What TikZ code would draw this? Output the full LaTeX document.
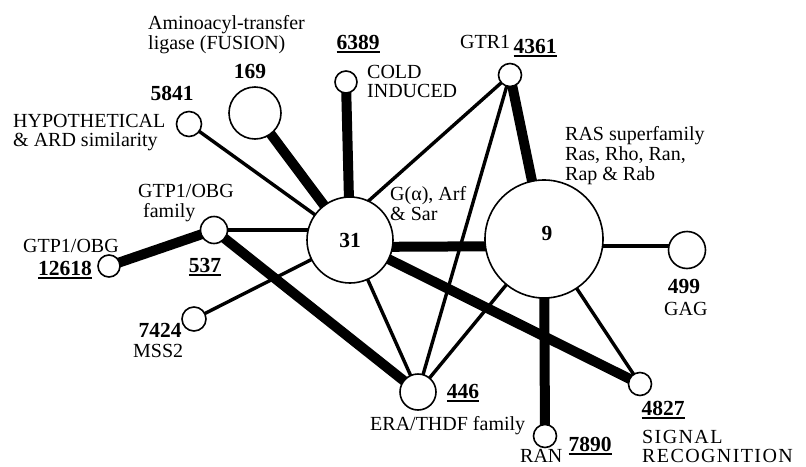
\documentclass[tikz,border=0pt]{standalone}
\usepackage{fontspec}
\setmainfont{Liberation Serif}
\usetikzlibrary{backgrounds,calc}

% label font and underlined bold cluster numbers
\newcommand\lblfont{\fontsize{20}{20}\selectfont}
\newcommand\numfont{\fontsize{21.5}{21.5}\selectfont\bfseries}
\newcommand\unum[1]{\vtop{\hbox{\numfont #1}\kern1.6pt\hrule height 1.8pt}}

\tikzset{
  grp/.style={circle, draw=black, fill=white, line width=1.6pt, inner sep=0pt, minimum size=#1},
  lbl/.style={font=\lblfont, inner sep=0pt, anchor=base west},
  lblc/.style={font=\lblfont, inner sep=0pt, anchor=base},
  num/.style={font=\numfont, inner sep=0pt, anchor=base},
  spaced/.style={font=\lblfont\addfontfeature{LetterSpace=7}},
  weak/.style={line width=3.4pt, line cap=butt},
  strong/.style={line width=10pt, line cap=butt},
}

\begin{document}
\begin{tikzpicture}[x=1pt, y=-1pt]
\useasboundingbox (0,0) rectangle (806,466);

% cluster circles
\node[grp=86pt]  (c31)   at (350,240) {};
\node[grp=118pt] (c9)    at (544,239) {};
\node[grp=52pt]  (n169)  at (255,113) {};
\node[grp=25pt]  (n5841) at (189,124) {};
\node[grp=22pt]  (n6389) at (346,82)  {};
\node[grp=23pt]  (n4361) at (510,75)  {};
\node[grp=27pt]  (n537)  at (214,230) {};
\node[grp=22pt]  (n12618) at (109,266) {};
\node[grp=24pt]  (n7424) at (194,319) {};
\node[grp=36pt]  (n446)  at (418,392) {};
\node[grp=23pt]  (n7890) at (545,436) {};
\node[grp=37pt]  (n499)  at (687,250) {};
\node[grp=23pt]  (n4827) at (640,384) {};

% links between clusters, kept behind the circles
\begin{pgfonlayer}{background}
  \draw[strong] (c31.center) -- (n169.center);
  \draw[strong] (c31.center) -- (n6389.center);
  \draw[strong] ([yshift=-7pt]c31.center) -- ([yshift=-7pt]c9.center);
  \draw[strong] (c31.center) -- (n4827.center);
  \draw[strong] (n537.center) -- (n12618.center);
  \draw[strong] (n537.center) -- (n446.center);
  \draw[strong] (n4361.center) -- (c9.center);
  \draw[strong] (c9.center) -- (n7890.center);

  \draw[weak] (c31.center) -- (n5841.center);
  \draw[weak] (n537.center) -- (n537.center -| c31.center);
  \draw[weak] (c31.center) -- (n7424.center);
  \draw[weak] (c31.center) -- (n446.center);
  \draw[weak] (n4361.center) -- ($(c31.center)!0.9!(c31.67)$);
  \draw[weak] (n4361.center) -- (n446.center);
  \draw[weak] (c9.center) -- (n446.center);
  \draw[weak] ([yshift=4pt]n499.center) -- ([yshift=4pt]n499.center -| c9.center);
  \draw[weak] (c9.center) -- (n4827.center);
\end{pgfonlayer}

% numbers in the two hubs
\node[num] (k31) at (350,247) {31};
\node[num] (k9)  at (547,240) {9};

% cluster numbers
\node[num] (k169)  at (250,78)  {169};
\node[num] (k5841) at (172,100) {5841};
\node[num] (k7424) at (160,337) {7424};
\node[num] (k499)  at (684,293) {499};
\node[lblc] (k6389)  at (358,49)  {\unum{6389}};
\node[lblc] (k4361)  at (535,53)  {\unum{4361}};
\node[lblc] (k12618) at (65,275)  {\unum{12618}};
\node[lblc] (k537)   at (205,272) {\unum{537}};
\node[lblc] (k446)   at (463,398) {\unum{446}};
\node[lblc] (k7890)  at (590,451) {\unum{7890}};
\node[lblc] (k4827)  at (663,415) {\unum{4827}};

% family descriptions
\node[lbl] (dAmino1) at (148,29)  {Aminoacyl-transfer};
\node[lbl] (dAmino2) at (148,49)  {ligase (FUSION)};
\node[lbl] (dHypo1)  at (13,127)  {HYPOTHETICAL};
\node[lbl] (dHypo2)  at (13,146)  {\& ARD similarity};
\node[lbl] (dCold1)  at (367,78)  {COLD};
\node[lbl] (dCold2)  at (367,97)  {INDUCED};
\node[lbl] (dGtr)    at (460,48)  {GTR1};
\node[lbl] (dRas1)   at (565,140) {RAS superfamily};
\node[lbl] (dRas2)   at (565,160) {Ras, Rho, Ran,};
\node[lbl] (dRas3)   at (565,180) {Rap \& Rab};
\node[lbl] (dGa1)    at (390,200) {G(α), Arf};
\node[lbl] (dGa2)    at (390,220) {\& Sar};
\node[lbl] (dObg1)   at (138,197) {GTP1/OBG};
\node[lbl] (dObg2)   at (143,217) {family};
\node[lbl] (dObg3)   at (23,252)  {GTP1/OBG};
\node[lbl] (dMss)    at (133,357) {MSS2};
\node[lbl] (dEra)    at (370,430) {ERA/THDF family};
\node[lbl] (dRan)    at (520,462) {RAN};
\node[lbl] (dGag)    at (664,315) {GAG};
\node[lbl, spaced] (dSig1) at (642,443) {SIGNAL};
\node[lbl, spaced] (dSig2) at (642,462) {RECOGNITION};
\end{tikzpicture}
\end{document}
